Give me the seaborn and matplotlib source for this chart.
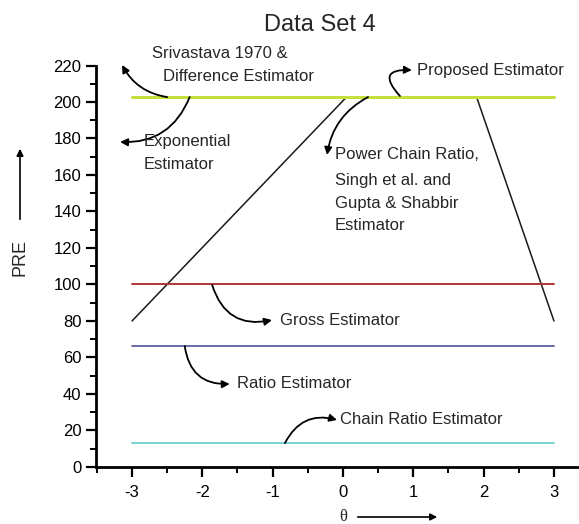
import pandas as pd
import matplotlib
matplotlib.use("Agg")
import matplotlib.pyplot as plt
import seaborn as sns
from matplotlib.ticker import MultipleLocator

# ----------------------------
# Data
# ----------------------------
theta_ends = [-3, 3]
srivastava_pre = 202.7   # Srivastava 1970, Difference and Exponential
gross_pre = 100.0
ratio_pre = 66.3
chain_pre = 13.0

proposed_theta = [-3, 0.05, 1.9, 3]
proposed_pre = [80, 202.7, 202.7, 80]

series_names = ["Proposed", "Srivastava", "Gross", "Ratio", "Chain"]
series_colors = ["#1a1a1a", "#c4e03c", "#b03434", "#6a6aa6", "#78d4d4"]

rows = []
for t, p in zip(proposed_theta, proposed_pre):
    rows.append(("Proposed", t, p))
for name, val in [("Srivastava", srivastava_pre), ("Gross", gross_pre),
                  ("Ratio", ratio_pre), ("Chain", chain_pre)]:
    for t in theta_ends:
        rows.append((name, t, val))
df = pd.DataFrame(rows, columns=["series", "theta", "PRE"])

# ----------------------------
# Plot
# ----------------------------
sns.set_style("ticks")
plt.rcParams["font.family"] = ["Liberation Sans", "DejaVu Sans"]
plt.rcParams["axes.unicode_minus"] = False

fig = plt.figure(figsize=(5.79, 5.24), dpi=100)
ax = fig.add_axes([0.1658, 0.1088, 0.8342, 0.7662])

sns.lineplot(data=df, x="theta", y="PRE", hue="series", hue_order=series_names,
             palette=dict(zip(series_names, series_colors)), legend=False,
             sort=False, ax=ax)
for line, lw in zip(ax.lines, [1.1, 2.2, 1.4, 1.4, 1.4]):
    line.set_linewidth(lw)

ax.set_xlim(-3.512, 3.356)
ax.set_ylim(0, 220)
ax.xaxis.set_major_locator(MultipleLocator(1))
ax.xaxis.set_minor_locator(MultipleLocator(0.5))
ax.yaxis.set_major_locator(MultipleLocator(20))
ax.yaxis.set_minor_locator(MultipleLocator(10))
ax.set_xlabel("")
ax.set_ylabel("")
sns.despine(ax=ax)
for s in ["left", "bottom"]:
    ax.spines[s].set_linewidth(2)
    ax.spines[s].set_color("black")
ax.tick_params(which="major", length=7, width=1.6, labelsize=12, colors="black")
ax.tick_params(which="minor", length=4, width=1.4, colors="black")
ax.tick_params(axis="x", pad=6)

# title
fig.text(0.553, 1 - 25 / 524, "Data Set 4", ha="center", va="center", fontsize=17)

# curved arrows (start on a line, end at the label)
arrow_kw = dict(arrowstyle="-|>", color="black", lw=1.3,
                mutation_scale=11, shrinkA=0, shrinkB=0)
arrows = [
    ((-2.50, 202.7), (-3.14, 220.3), -0.25),
    ((-2.18, 202.7), (-3.17, 178.1), -0.35),
    ((0.81, 203.3), (0.98, 217.5), -1.2),
    ((0.356, 202.7), (-0.227, 171.0), 0.25),
    ((-1.86, 99.7), (-1.01, 80.5), 0.45),
    ((-2.25, 66.3), (-1.61, 45.5), 0.45),
    ((-0.825, 13.1), (-0.085, 25.8), -0.4),
]
for start, end, rad in arrows:
    ax.annotate("", xy=end, xytext=start, xycoords="data",
                arrowprops=dict(connectionstyle=f"arc3,rad={rad}", **arrow_kw),
                annotation_clip=False)

labels = [
    (-2.72, 226.8, "Srivastava 1970 &"),
    (-2.56, 214.2, "Difference Estimator"),
    (-2.84, 178.1, "Exponential"),
    (-2.84, 165.5, "Estimator"),
    (1.05, 217.5, "Proposed Estimator"),
    (-0.114, 171.2, "Power Chain Ratio,"),
    (-0.114, 157.0, "Singh et al. and"),
    (-0.114, 144.4, "Gupta & Shabbir"),
    (-0.114, 132.3, "Estimator"),
    (-0.90, 80.5, "Gross Estimator"),
    (-1.51, 45.5, "Ratio Estimator"),
    (-0.04, 25.8, "Chain Ratio Estimator"),
]
for x, y, txt in labels:
    ax.text(x, y, txt, ha="left", va="center", fontsize=12, clip_on=False)

# axis labels with arrows
fig.text(20 / 579, 1 - 257 / 524, "PRE", rotation=90, ha="center", va="center",
         fontsize=13)
fig.add_artist(matplotlib.patches.FancyArrowPatch(
    (20 / 579, 1 - 222 / 524), (20 / 579, 1 - 146 / 524),
    transform=fig.transFigure, arrowstyle="-|>", mutation_scale=10,
    color="black", lw=1.2))
fig.text(343 / 579, 1 - 517 / 524, "θ", ha="center", va="center",
         fontsize=12, family=["Liberation Serif", "DejaVu Serif"])
fig.add_artist(matplotlib.patches.FancyArrowPatch(
    (355 / 579, 1 - 517 / 524), (440 / 579, 1 - 517 / 524),
    transform=fig.transFigure, arrowstyle="-|>", mutation_scale=10,
    color="black", lw=1.2))

fig.savefig("out.png", dpi=100)
